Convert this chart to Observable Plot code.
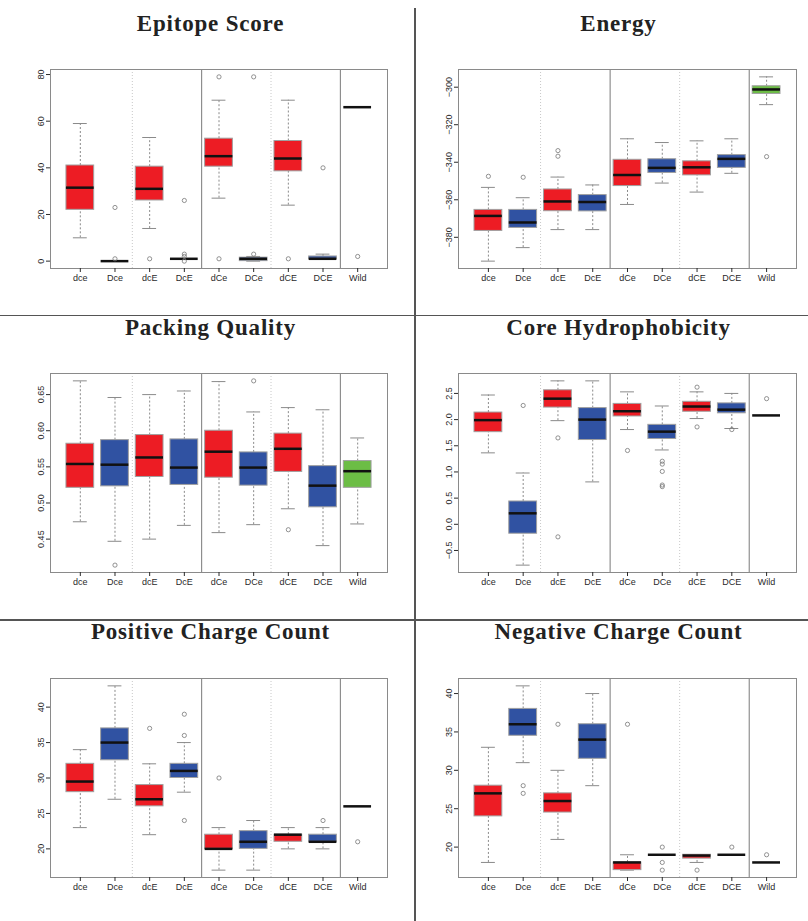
<!DOCTYPE html>
<html>
<head>
<meta charset="utf-8">
<script src="https://cdn.jsdelivr.net/npm/d3@7"></script>
<script src="https://cdn.jsdelivr.net/npm/@observablehq/plot@0.6"></script>
<style>
  body { margin: 0; background: #fff; }
  #page { position: relative; width: 808px; height: 921px; overflow: hidden; background: #fff; }
  .title { position: absolute; width: 400px; text-align: center; font: bold 23px "Liberation Serif", "Times New Roman", serif;
           letter-spacing: 0.8px; line-height: 23px; color: #222; white-space: nowrap; }
  .rule { position: absolute; background: #555; }
  .panel { position: absolute; }
</style>
</head>
<body>
<div id="page"></div>
<script>
// Genotype groups, in plotting order, and their fill colours
const genotypes = ["dce", "Dce", "dcE", "DcE", "dCe", "DCe", "dCE", "DCE", "Wild"];
const genotypeFills = ["#ed1c24", "#3052a2", "#ed1c24", "#3052a2", "#ed1c24", "#3052a2", "#ed1c24", "#3052a2", "#6cbd45"];

// Box summaries per genotype: [lower whisker, Q1, median, Q3, upper whisker]
const epitopeBoxes = [
  [10, 22, 31.5, 41, 59],
  [0, 0, 0, 0, 0],
  [14, 26, 31, 40.5, 53],
  [1, 1, 1, 1, 1],
  [27, 40.5, 45, 52.5, 69],
  [0, 0, 1, 1.5, 2],
  [24, 38.5, 44, 51.5, 69],
  [1, 1, 1, 2, 3],
  [66, 66, 66, 66, 66]
];
const epitopeOutliers = [[], [23, 1], [1], [26, 3, 2, 0], [79, 1], [79, 3], [1], [40], [2]];
const epitopeTicks = [0, 20, 40, 60, 80];

const energyBoxes = [
  [-392.7, -376.6, -368.6, -365.4, -353.4],
  [-385.5, -375, -372.1, -365.4, -358.9],
  [-375.9, -366.1, -360.9, -354.5, -347.9],
  [-375.9, -366.2, -361.2, -357.5, -352.1],
  [-362.5, -352.7, -346.8, -338.7, -327.5],
  [-351.1, -345.7, -343, -338.4, -329.5],
  [-355.9, -347, -342.7, -339.5, -328.6],
  [-345.9, -343, -338.2, -336.2, -327.5],
  [-309.3, -303.6, -301.2, -299.5, -294.5]
];
const energyOutliers = [[-347.5], [-348], [-333.8, -336.8], [], [], [], [], [], [-337]];
const energyTicks = [-380, -360, -340, -320, -300];

const packingBoxes = [
  [0.474, 0.521, 0.554, 0.582, 0.669],
  [0.447, 0.523, 0.553, 0.587, 0.646],
  [0.450, 0.536, 0.563, 0.594, 0.650],
  [0.469, 0.525, 0.549, 0.588, 0.655],
  [0.459, 0.535, 0.571, 0.600, 0.668],
  [0.470, 0.524, 0.549, 0.570, 0.626],
  [0.492, 0.543, 0.575, 0.596, 0.632],
  [0.441, 0.494, 0.524, 0.551, 0.629],
  [0.471, 0.521, 0.544, 0.558, 0.590]
];
const packingOutliers = [[], [0.414], [], [], [], [0.669], [0.463], [], []];
const packingTicks = [0.45, 0.50, 0.55, 0.60, 0.65];

const hydrophobicityBoxes = [
  [1.365, 1.76, 1.99, 2.135, 2.47],
  [-0.78, -0.18, 0.21, 0.436, 0.98],
  [1.98, 2.23, 2.40, 2.56, 2.74],
  [0.81, 1.61, 2.0, 2.22, 2.74],
  [1.81, 2.06, 2.16, 2.30, 2.53],
  [1.42, 1.63, 1.77, 1.90, 2.26],
  [2.02, 2.15, 2.25, 2.34, 2.53],
  [1.83, 2.12, 2.19, 2.31, 2.50],
  [2.08, 2.08, 2.08, 2.08, 2.08]
];
const hydrophobicityOutliers = [[], [2.27], [1.65, -0.24], [], [1.41], [1.205, 1.15, 1.01, 0.75, 0.72], [2.62, 1.86], [1.81], [2.40]];
const hydrophobicityTicks = [-0.5, 0, 0.5, 1, 1.5, 2, 2.5];

const positiveBoxes = [
  [23, 28, 29.5, 32, 34],
  [27, 32.5, 35, 37, 43],
  [22, 26, 27, 29, 32],
  [28, 30, 31, 32, 35],
  [17, 20, 20, 22, 23],
  [17, 20, 21, 22.5, 24],
  [20, 21, 22, 22, 23],
  [20, 21, 21, 22, 23],
  [26, 26, 26, 26, 26]
];
const positiveOutliers = [[], [], [37], [39, 36, 24], [30], [], [], [24], [21]];
const positiveTicks = [20, 25, 30, 35, 40];

const negativeBoxes = [
  [18, 24, 27, 28, 33],
  [31, 34.5, 36, 38, 41],
  [21, 24.5, 26, 27, 30],
  [28, 31.5, 34, 36, 40],
  [17, 17, 18, 18, 19],
  [19, 19, 19, 19, 19],
  [18, 18.5, 18.9, 19, 19],
  [19, 19, 19, 19, 19],
  [18, 18, 18, 18, 18]
];
const negativeOutliers = [[], [28, 27], [36], [], [36], [20, 18, 17], [17], [20], [19]];
const negativeTicks = [20, 25, 30, 35, 40];

// Panel grid: which summary goes where
const panels = [
  {title: "Epitope Score", boxes: epitopeBoxes, outliers: epitopeOutliers, ticks: epitopeTicks, format: d3.format("d"), col: 0, row: 0},
  {title: "Energy", boxes: energyBoxes, outliers: energyOutliers, ticks: energyTicks, format: d3.format("d"), col: 1, row: 0},
  {title: "Packing Quality", boxes: packingBoxes, outliers: packingOutliers, ticks: packingTicks, format: d3.format(".2f"), col: 0, row: 1},
  {title: "Core Hydrophobicity", boxes: hydrophobicityBoxes, outliers: hydrophobicityOutliers, ticks: hydrophobicityTicks, format: d3.format(".1f"), col: 1, row: 1},
  {title: "Positive Charge Count", boxes: positiveBoxes, outliers: positiveOutliers, ticks: positiveTicks, format: d3.format("d"), col: 0, row: 2},
  {title: "Negative Charge Count", boxes: negativeBoxes, outliers: negativeOutliers, ticks: negativeTicks, format: d3.format("d"), col: 1, row: 2}
];

const columns = [
  {left: 0, marginLeft: 50, marginRight: 17, titleCenter: 210.5},
  {left: 404, marginLeft: 54, marginRight: 12, titleCenter: 618.5}
];
const rows = [
  {frameTop: 69, titleBaseline: 31},
  {frameTop: 373, titleBaseline: 335},
  {frameTop: 678, titleBaseline: 639}
];
const frameHeight = 199, marginTop = 10, marginBottom = 26;

const page = document.getElementById("page");

function addRule(left, top, width, height) {
  const el = document.createElement("div");
  el.className = "rule";
  Object.assign(el.style, {left: left + "px", top: top + "px", width: width + "px", height: height + "px"});
  page.appendChild(el);
}
// Separators between the six panels
addRule(414, 8, 1.5, 913);
addRule(0, 314.5, 808, 1.5);
addRule(0, 619, 808, 1.5);

// R-style padding: 4% of the data range on each side
function paddedExtent(values) {
  const [lo, hi] = d3.extent(values);
  const pad = (hi - lo) * 0.04;
  return [lo - pad, hi + pad];
}

for (const p of panels) {
  const col = columns[p.col], row = rows[p.row];

  const boxes = p.boxes.map((b, i) => ({
    x: i + 1, lo: b[0], q1: b[1], med: b[2], q3: b[3], hi: b[4], fill: genotypeFills[i]
  }));
  const outs = p.outliers.flatMap((vals, i) => vals.map(v => ({x: i + 1, v})));
  const yDomain = paddedExtent([...p.boxes.flat(), ...p.outliers.flat()]);

  const title = document.createElement("div");
  title.className = "title";
  title.textContent = p.title;
  title.style.left = (col.titleCenter - 200) + "px";
  title.style.top = (row.titleBaseline - 19.3) + "px";
  page.appendChild(title);

  const svg = Plot.plot({
    width: 404,
    height: marginTop + frameHeight + marginBottom,
    marginLeft: col.marginLeft,
    marginRight: col.marginRight,
    marginTop,
    marginBottom,
    style: {fontFamily: "'Liberation Sans', Arial, sans-serif", fontSize: "9px", color: "#2a2a2a", background: "transparent", overflow: "visible"},
    x: {domain: [0.14, 9.86]},
    y: {domain: yDomain},
    color: {type: "identity"},
    marks: [
      // group separators
      Plot.ruleX([2.5, 6.5], {stroke: "#c8c8c8", strokeDasharray: "1,2"}),
      Plot.ruleX([4.5, 8.5], {stroke: "#7a7a7a"}),
      // whiskers and staples
      Plot.ruleX(boxes, {x: "x", y1: "q3", y2: "hi", stroke: "#8a8a8a", strokeDasharray: "2,2"}),
      Plot.ruleX(boxes, {x: "x", y1: "lo", y2: "q1", stroke: "#8a8a8a", strokeDasharray: "2,2"}),
      Plot.ruleY(boxes, {y: "hi", x1: d => d.x - 0.2, x2: d => d.x + 0.2, stroke: "#8a8a8a"}),
      Plot.ruleY(boxes, {y: "lo", x1: d => d.x - 0.2, x2: d => d.x + 0.2, stroke: "#8a8a8a"}),
      // interquartile boxes
      Plot.rect(boxes, {x1: d => d.x - 0.4, x2: d => d.x + 0.4, y1: "q1", y2: "q3", fill: "fill", stroke: "#a0a0a0", strokeWidth: 1}),
      // medians
      Plot.ruleY(boxes, {y: "med", x1: d => d.x - 0.4, x2: d => d.x + 0.4, stroke: "#111", strokeWidth: 2.5}),
      // outliers
      Plot.dot(outs, {x: "x", y: "v", r: 2.1, stroke: "#777", strokeWidth: 0.8, fill: "none"}),
      Plot.frame({stroke: "#8a8a8a"}),
      Plot.axisY({ticks: p.ticks, tickFormat: p.format, tickRotate: -90, tickSize: 4, tickPadding: 3, label: null}),
      Plot.axisX({ticks: d3.range(1, 10), tickFormat: i => genotypes[i - 1], tickSize: 4, tickPadding: 2, label: null})
    ]
  });
  svg.classList.add("panel");
  svg.style.left = col.left + "px";
  svg.style.top = (row.frameTop - marginTop) + "px";
  page.appendChild(svg);
}
</script>
</body>
</html>
